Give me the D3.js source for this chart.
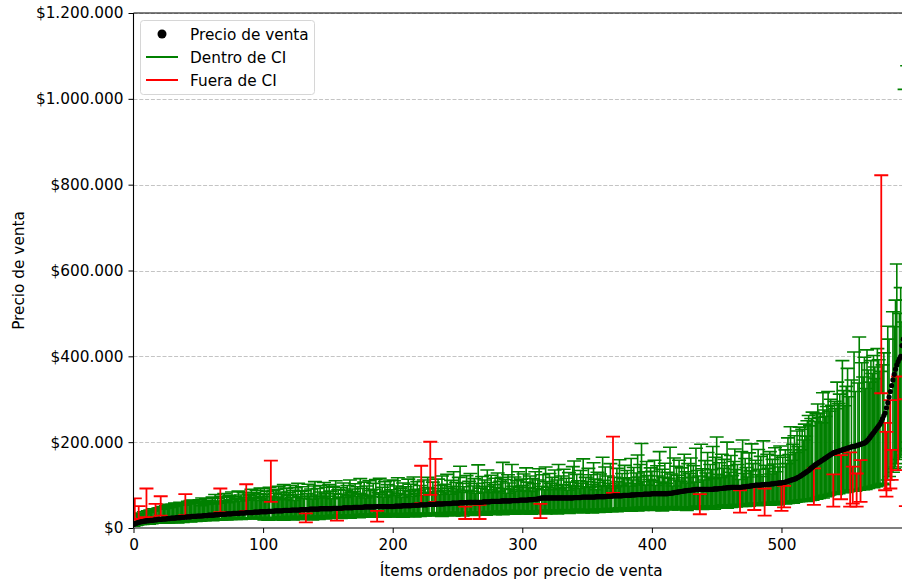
<!DOCTYPE html>
<html>
<head>
<meta charset="utf-8">
<script src="https://cdn.jsdelivr.net/npm/d3@7"></script>
<style>
  body { margin: 0; background: #fff; }
  text { font-family: "DejaVu Sans", sans-serif; fill: #000; }
</style>
</head>
<body>
<svg id="chart" width="902" height="582"></svg>
<script>
// Sale price of each item, sorted ascending (thousands of $)
const salePrice = [
  8,10,11,12,13,14,15,15,16,16,
  17,17,17,18,18,18,19,19,19,20,
  20,20,21,21,21,21,22,22,22,23,
  23,23,23,24,24,24,24,25,25,25,
  25,26,26,26,26,27,27,27,27,28,
  28,28,28,28,29,29,29,29,30,30,
  30,30,30,31,31,31,31,32,32,32,
  32,32,33,33,33,33,33,34,34,34,
  34,34,35,35,35,35,35,36,36,36,
  36,36,36,37,37,37,37,37,38,38,
  38,38,38,38,39,39,39,39,39,40,
  40,40,40,40,40,40,41,41,41,41,
  41,41,42,42,42,42,42,42,42,43,
  43,43,43,43,43,43,44,44,44,44,
  44,44,44,44,45,45,45,45,45,45,
  45,45,45,45,46,46,46,46,46,46,
  46,46,47,47,47,47,47,47,47,47,
  48,48,48,48,48,48,48,48,49,49,
  49,49,49,49,49,49,49,50,50,50,
  50,50,50,50,50,50,50,50,50,50,
  50,50,51,51,51,51,51,51,52,52,
  52,52,52,52,52,53,53,53,53,53,
  53,54,54,54,54,54,54,55,55,55,
  55,55,55,55,56,56,56,56,56,56,
  57,57,57,57,57,57,58,58,58,58,
  58,58,59,59,59,59,59,59,60,60,
  60,60,60,60,60,60,60,60,60,60,
  61,61,61,61,61,61,62,62,62,62,
  62,62,62,62,63,63,63,63,63,63,
  63,63,64,64,64,64,64,64,65,65,
  65,65,65,65,65,66,66,66,66,67,
  67,67,68,68,69,70,70,70,70,70,
  70,70,70,70,70,70,70,70,70,70,
  70,70,70,70,70,70,70,70,70,70,
  71,71,71,71,71,71,72,72,72,72,
  72,72,72,72,72,72,72,73,73,73,
  73,73,73,73,73,74,74,74,74,74,
  75,75,75,75,75,75,75,75,76,76,
  76,76,76,76,77,77,77,77,78,78,
  78,78,78,78,79,79,79,79,79,79,
  80,80,80,80,80,80,80,80,80,80,
  80,80,80,81,81,81,82,82,83,83,
  84,84,85,85,86,86,87,87,88,88,
  88,89,89,89,90,90,90,90,90,90,
  90,90,90,90,90,90,90,90,91,91,
  91,91,92,92,92,93,93,93,94,94,
  94,95,95,95,95,95,95,95,95,95,
  96,96,96,97,97,97,98,98,99,99,
  100,100,100,100,100,101,101,101,102,102,
  102,102,103,103,103,104,104,104,105,105,
  105,106,106,107,108,109,110,111,112,113,
  114,115,117,118,120,122,124,126,128,130,
  132,134,137,140,142,145,147,149,151,153,
  155,157,159,161,163,165,167,169,171,173,
  175,176,177,178,179,180,181,182,183,184,
  185,186,187,188,189,190,190,191,192,193,
  194,195,196,197,198,200,203,206,210,214,
  218,222,226,230,234,238,242,248,255,262,
  268,280,292,305,318,332,345,358,370,380,
  388,394,400,425,440,460,490,530
];

// Lower bound of each item's confidence interval (thousands of $)
const ciLower = [
  4,19,6,7,21,8,9,8,10,9,
  25,10,9,11,10,12,11,24,12,11,
  12,29,13,11,12,14,13,12,15,13,
  14,13,15,14,12,16,14,15,13,16,
  30,15,17,16,14,17,16,18,15,17,
  18,16,17,19,18,17,19,18,20,18,
  19,17,20,18,21,19,20,37,19,21,
  20,22,19,21,23,20,22,21,23,20,
  22,21,23,20,24,22,21,40,23,22,
  24,21,23,25,22,24,23,21,25,24,
  22,19,24,21,18,23,61,20,25,22,
  19,24,21,26,20,23,18,25,22,27,
  21,26,23,19,25,22,27,20,24,26,
  23,20,25,13,22,27,21,24,19,26,
  25,22,28,20,24,27,23,29,21,26,
  24,28,22,26,30,23,27,17,25,29,
  22,27,31,24,28,25,30,23,29,26,
  30,25,28,32,24,29,27,31,26,33,
  27,31,25,29,33,28,26,32,15,30,
  29,33,27,31,25,34,28,32,30,26,
  28,31,26,33,29,27,34,30,25,32,
  29,33,27,31,35,28,32,26,34,30,
  33,27,58,31,35,28,32,29,34,77,
  30,34,28,61,32,36,29,33,27,35,
  31,35,29,33,37,30,34,28,36,32,
  34,30,36,32,28,35,21,33,37,31,
  35,32,37,29,34,38,31,21,36,33,
  37,33,30,36,39,34,32,38,35,31,
  36,40,33,38,35,31,39,34,37,41,
  38,34,40,36,32,39,35,41,37,33,
  36,33,38,35,40,34,37,32,39,36,
  38,34,40,35,23,41,37,39,33,42,
  36,40,34,38,42,35,39,33,41,37,
  40,35,38,43,36,41,34,39,37,42,
  38,42,36,40,44,37,41,35,43,39,
  41,37,43,39,35,42,38,44,40,36,
  43,39,45,41,37,44,40,46,42,38,
  82,41,45,38,43,47,40,44,42,46,
  45,41,47,43,39,46,42,48,44,40,
  47,43,49,41,45,48,42,46,44,50,
  44,47,41,46,49,43,48,45,40,47,
  46,49,43,48,45,42,50,47,44,48,
  45,42,47,44,48,43,46,41,49,44,
  46,49,44,48,51,45,50,32,47,43,
  47,50,45,49,52,46,51,48,44,50,
  49,52,47,51,54,48,53,50,46,52,
  51,48,53,50,55,49,54,52,36,50,
  52,55,50,54,57,51,56,53,58,42,
  54,57,52,56,59,53,58,29,55,60,
  56,53,59,55,61,57,54,60,56,62,
  40,58,48,56,60,57,61,59,62,58,
  63,60,64,61,65,62,66,63,67,64,
  62,66,64,68,65,54,70,67,72,69,
  71,74,70,76,73,78,75,77,80,79,
  50,81,78,83,80,84,67,82,85,83,
  86,84,88,50,87,57,89,86,50,90,
  88,61,91,89,93,90,94,92,96,95,
  97,94,99,96,100,98,102,314,104,101,
  88,73,112,120,92,112,130,138,142,150,
  135,160,165,170,180,185,51,200
];

// Upper bound of each item's confidence interval (thousands of $)
const ciUpper = [
  22,69,28,30,51,33,35,31,38,34,
  92,40,36,42,39,45,41,56,44,46,
  47,74,50,44,49,52,46,55,48,53,
  55,50,58,52,57,54,60,55,59,53,
  79,58,62,56,64,60,65,59,63,61,
  58,66,52,70,61,55,68,57,64,60,
  63,72,56,78,60,69,58,92,74,62,
  80,64,71,59,76,66,84,61,73,68,
  70,86,63,77,67,82,72,102,65,79,
  75,90,68,83,71,88,64,80,93,73,
  78,92,70,86,65,95,157,74,88,81,
  90,72,97,68,84,79,101,66,93,76,
  83,99,71,88,64,94,78,104,73,86,
  96,69,87,34,80,102,74,91,67,98,
  108,77,92,70,99,84,73,106,81,95,
  74,101,86,68,97,80,110,42,89,72,
  94,79,105,71,88,99,76,112,83,91,
  85,103,74,96,81,115,78,92,107,70,
  98,76,110,87,73,104,90,113,40,82,
  116,79,95,72,108,86,101,77,112,89,
  84,110,75,98,117,80,93,71,105,88,
  96,78,114,85,102,74,119,90,81,108,
  87,99,145,76,112,91,83,118,94,201,
  80,107,92,161,85,114,78,99,121,88,
  102,84,125,93,79,111,97,131,86,106,
  91,118,144,83,104,96,50,122,88,109,
  127,86,98,115,81,104,147,54,93,120,
  84,112,97,135,89,106,123,82,101,116,
  94,128,86,109,118,153,92,113,81,124,
  105,90,148,97,119,86,110,131,95,114,
  99,126,88,140,107,94,121,85,115,103,
  131,92,112,138,56,97,124,89,142,108,
  95,127,104,118,89,135,99,112,148,92,
  121,101,137,94,116,88,129,107,99,143,
  156,98,125,110,92,134,104,161,96,118,
  108,139,95,124,101,152,114,89,130,106,
  126,97,165,111,142,99,121,104,150,93,
  213,118,96,139,108,159,100,127,115,146,
  105,134,117,98,162,112,141,103,128,170,
  119,148,197,108,131,100,155,122,113,140,
  132,110,158,99,145,121,178,107,137,118,
  151,104,130,116,188,126,98,163,112,144,
  123,158,109,140,117,172,131,105,150,127,
  163,118,145,107,186,134,121,79,195,138,
  112,157,128,176,119,148,136,190,115,165,
  212,125,152,117,172,139,160,121,200,145,
  130,169,122,155,184,136,148,113,88,178,
  205,127,162,141,119,175,133,196,150,95,
  158,124,183,137,167,120,203,92,146,172,
  139,178,126,160,149,187,131,169,142,191,
  104,165,98,182,150,210,171,236,158,195,
  215,176,226,190,235,182,230,205,242,214,
  250,262,238,255,270,139,248,266,289,258,
  268,245,315,275,260,283,318,272,300,286,
  125,295,278,340,290,312,170,390,320,285,
  330,372,306,176,345,143,410,318,127,338,
  445,158,385,352,398,325,415,368,340,390,
  360,402,375,348,418,392,365,822,380,408,
  245,224,470,440,298,182,504,469,531,615,
  353,500,560,480,531,1022,300,1077
];

const xTicks = [0, 100, 200, 300, 400, 500];
const yTicks = [0, 200000, 400000, 600000, 800000, 1000000, 1200000];
const legendLabels = ["Precio de venta", "Dentro de CI", "Fuera de CI"];
const xTitle = "Ítems ordenados por precio de venta";
const yTitle = "Precio de venta";

const W = 902, H = 582;
const plot = { left: 133.5, top: 13, bottom: 528, right: 909 };
const GREEN = "#008000", RED = "#ff0000";
const FONT = 15.3;

const svg = d3.select("#chart");

const x = d3.scaleLinear().domain([0, 598.4]).range([plot.left, plot.right]);
const y = d3.scaleLinear().domain([0, 1200000]).range([plot.bottom, plot.top]);

const items = salePrice.map((p, i) => {
  const price = p * 1000, lo = ciLower[i] * 1000, hi = ciUpper[i] * 1000;
  return { i, price, lo, hi, inside: lo <= price && price <= hi };
});

// Clip to the axes area
svg.append("defs").append("clipPath").attr("id", "plotClip")
  .append("rect")
  .attr("x", plot.left).attr("y", plot.top)
  .attr("width", W - plot.left).attr("height", plot.bottom - plot.top);

// Horizontal dashed grid
svg.append("g")
  .selectAll("line")
  .data(yTicks.filter(t => t > 0))
  .join("line")
  .attr("x1", plot.left).attr("x2", W)
  .attr("y1", d => Math.round(y(d)) + 0.5).attr("y2", d => Math.round(y(d)) + 0.5)
  .attr("stroke", "#c4c4c4")
  .attr("stroke-width", 1)
  .attr("stroke-dasharray", "4,1.8");

// Error bar path with caps
const cap = 7;
function barPath(d) {
  const cx = x(d.i), y0 = y(d.lo), y1 = y(d.hi);
  return `M${cx},${y0}V${y1}M${cx - cap},${y0}H${cx + cap}M${cx - cap},${y1}H${cx + cap}`;
}

const marks = svg.append("g").attr("clip-path", "url(#plotClip)");

marks.append("g")
  .selectAll("path")
  .data(items.filter(d => d.inside))
  .join("path")
  .attr("d", barPath)
  .attr("fill", "none")
  .attr("stroke", GREEN)
  .attr("stroke-width", 1.6);

marks.append("g")
  .selectAll("path")
  .data(items.filter(d => !d.inside))
  .join("path")
  .attr("d", barPath)
  .attr("fill", "none")
  .attr("stroke", RED)
  .attr("stroke-width", 1.8);

marks.append("g")
  .selectAll("circle")
  .data(items)
  .join("circle")
  .attr("cx", d => x(d.i))
  .attr("cy", d => y(d.price))
  .attr("r", 2.6)
  .attr("fill", "#000");

// Axes
const xAxis = d3.axisBottom(x).tickValues(xTicks).tickSize(5).tickPadding(4);
const gx = svg.append("g").attr("transform", `translate(0,${plot.bottom})`).call(xAxis);
gx.select(".domain").remove();
gx.selectAll("line").attr("stroke", "#000").attr("stroke-width", 1);
gx.selectAll("text").attr("font-size", FONT).attr("font-family", "DejaVu Sans").attr("dy", "0.82em");

const fmt = v => "$" + d3.format(",")(v).replace(/,/g, ".");
const yAxis = d3.axisLeft(y).tickValues(yTicks).tickFormat(fmt).tickSize(5).tickPadding(5);
const gy = svg.append("g").attr("transform", `translate(${plot.left},0)`).call(yAxis);
gy.select(".domain").remove();
gy.selectAll("line").attr("stroke", "#000").attr("stroke-width", 1);
gy.selectAll("text").attr("font-size", FONT).attr("font-family", "DejaVu Sans");

// Spines
svg.append("line").attr("x1", plot.left).attr("x2", plot.left)
  .attr("y1", plot.top).attr("y2", plot.bottom).attr("stroke", "#000").attr("stroke-width", 1.1);
svg.append("line").attr("x1", plot.left).attr("x2", W)
  .attr("y1", plot.bottom).attr("y2", plot.bottom).attr("stroke", "#000").attr("stroke-width", 1.1);
svg.append("line").attr("x1", plot.left).attr("x2", W)
  .attr("y1", plot.top).attr("y2", plot.top).attr("stroke", "#000").attr("stroke-width", 1.1);

// Axis titles
svg.append("text")
  .attr("x", (plot.left + plot.right) / 2).attr("y", 576)
  .attr("text-anchor", "middle").attr("font-size", FONT)
  .text(xTitle);
svg.append("text")
  .attr("transform", `translate(24,${(plot.top + plot.bottom) / 2}) rotate(-90)`)
  .attr("text-anchor", "middle").attr("font-size", FONT)
  .text(yTitle);

// Legend
const lg = svg.append("g");
lg.append("rect")
  .attr("x", 140.5).attr("y", 20.5).attr("width", 174).attr("height", 74)
  .attr("rx", 3).attr("fill", "#fff").attr("fill-opacity", 0.8)
  .attr("stroke", "#d6d6d6").attr("stroke-width", 1);
const rowsY = [34, 57, 80];
lg.append("circle").attr("cx", 162).attr("cy", rowsY[0]).attr("r", 4.5).attr("fill", "#000");
lg.append("line").attr("x1", 146).attr("x2", 178).attr("y1", rowsY[1]).attr("y2", rowsY[1])
  .attr("stroke", GREEN).attr("stroke-width", 2);
lg.append("line").attr("x1", 146).attr("x2", 178).attr("y1", rowsY[2]).attr("y2", rowsY[2])
  .attr("stroke", RED).attr("stroke-width", 2);
lg.selectAll("text.lbl")
  .data(legendLabels)
  .join("text")
  .attr("class", "lbl")
  .attr("x", 190)
  .attr("y", (d, i) => rowsY[i])
  .attr("dy", "0.36em")
  .attr("font-size", FONT)
  .text(d => d);
</script>
</body>
</html>
